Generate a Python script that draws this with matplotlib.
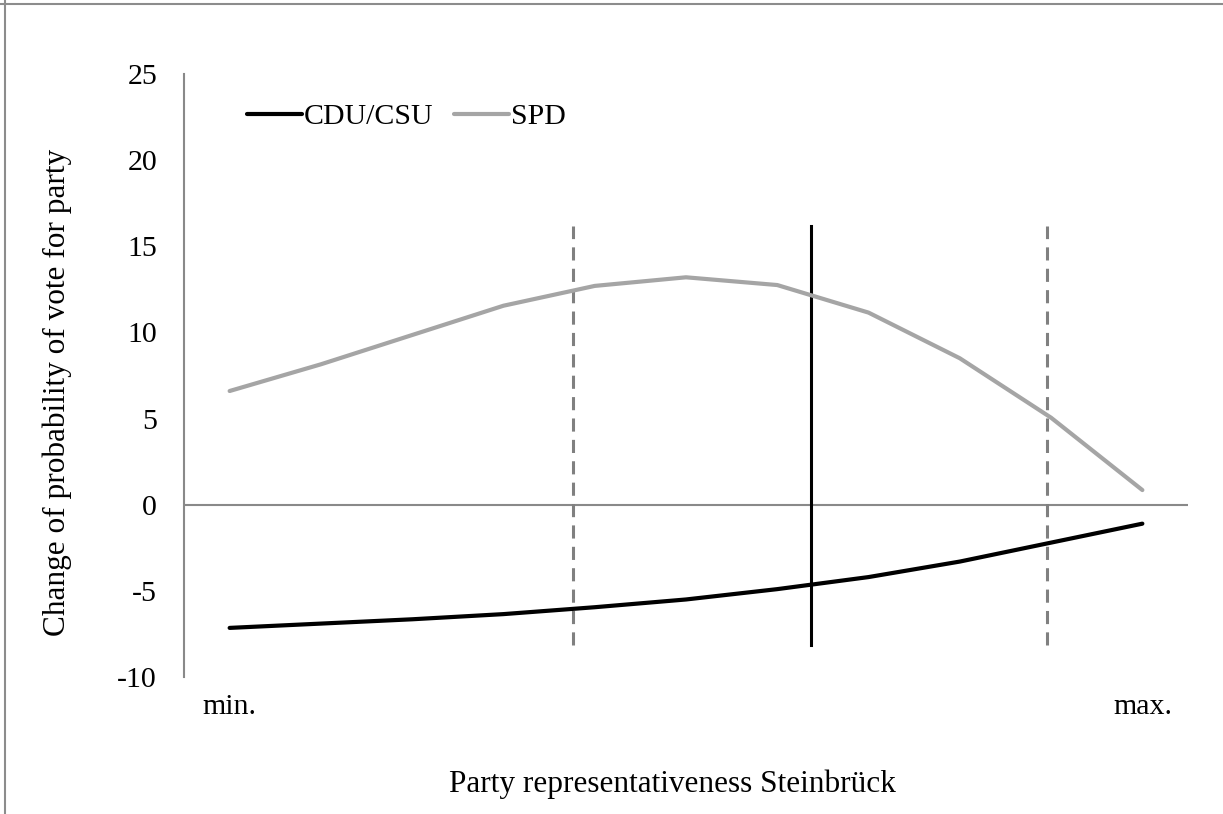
import matplotlib
matplotlib.use("Agg")
import matplotlib.pyplot as plt
from matplotlib.lines import Line2D

# ---- data ----
x_points = list(range(11))
x_tick_positions = [0, 10]
x_tick_labels = ["min.", "max."]
cdu_csu = [-7.15, -6.9, -6.65, -6.35, -5.95, -5.5, -4.9, -4.2, -3.3, -2.2, -1.1]
spd = [6.6, 8.15, 9.85, 11.55, 12.7, 13.2, 12.75, 11.15, 8.5, 5.05, 0.85]
dashed_lines_x = [3.76, 8.96]
solid_line_x = 6.37
vline_range = (-8.15, 16.15)
y_ticks = [-10, -5, 0, 5, 10, 15, 20, 25]

plt.rcParams['font.family'] = ['Liberation Serif', 'DejaVu Serif']
plt.rcParams['font.size'] = 21.5

W, H = 1223, 814
fig = plt.figure(figsize=(W / 100, H / 100), dpi=100)
ax = fig.add_axes([184 / W, 1 - 677 / H, (1188 - 184) / W, (677 - 74) / H])

ax.set_xlim(-0.5, 10.5)
ax.set_ylim(-10, 25)

# reference lines
ax.axhline(0, color='#898989', lw=1.5, zorder=1)
for xv in dashed_lines_x:
    ax.plot([xv, xv], vline_range, color='#808080', lw=2.2,
            dashes=(4.3, 2.7), zorder=2)
ax.plot([solid_line_x, solid_line_x], vline_range, color='black', lw=2.2, zorder=2)

# series
l1, = ax.plot(x_points, cdu_csu, color='black', lw=3.0,
              solid_capstyle='round', solid_joinstyle='round', zorder=3, label='CDU/CSU')
l2, = ax.plot(x_points, spd, color='#A5A5A5', lw=3.0,
              solid_capstyle='round', solid_joinstyle='round', zorder=3, label='SPD')

# axes styling
for s in ['top', 'right', 'bottom']:
    ax.spines[s].set_visible(False)
ax.spines['left'].set_color('#898989')
ax.spines['left'].set_linewidth(1.5)
ax.set_yticks(y_ticks)
ax.set_yticklabels([str(v) for v in y_ticks])
ax.tick_params(axis='y', length=0, pad=19.4)
ax.set_xticks(x_tick_positions)
ax.set_xticklabels(x_tick_labels)
ax.tick_params(axis='x', length=0, pad=12.2)

# legend
ax.legend(handles=[l1, l2], loc='center left',
          bbox_to_anchor=(247 / W, 1 - 117 / H), bbox_transform=fig.transFigure,
          ncol=2, frameon=False, handlelength=1.83, handletextpad=0.07,
          columnspacing=0.7, borderpad=0, borderaxespad=0)

# axis titles
fig.text(57 / W, 1 - 392 / H, "Change of probability of vote for party",
         rotation=90, ha='center', va='center', fontsize=22.5)
fig.text(672 / W, 1 - 792 / H, "Party representativeness Steinbrück",
         ha='center', va='baseline', fontsize=22.5)

# figure border (top and left)
fig.add_artist(Line2D([0, 1], [1 - 4 / H, 1 - 4 / H], transform=fig.transFigure,
                      color='#8c8c8c', lw=1.5))
fig.add_artist(Line2D([5 / W, 5 / W], [0, 1], transform=fig.transFigure,
                      color='#8c8c8c', lw=1.5))

fig.savefig("out.png", dpi=100)
